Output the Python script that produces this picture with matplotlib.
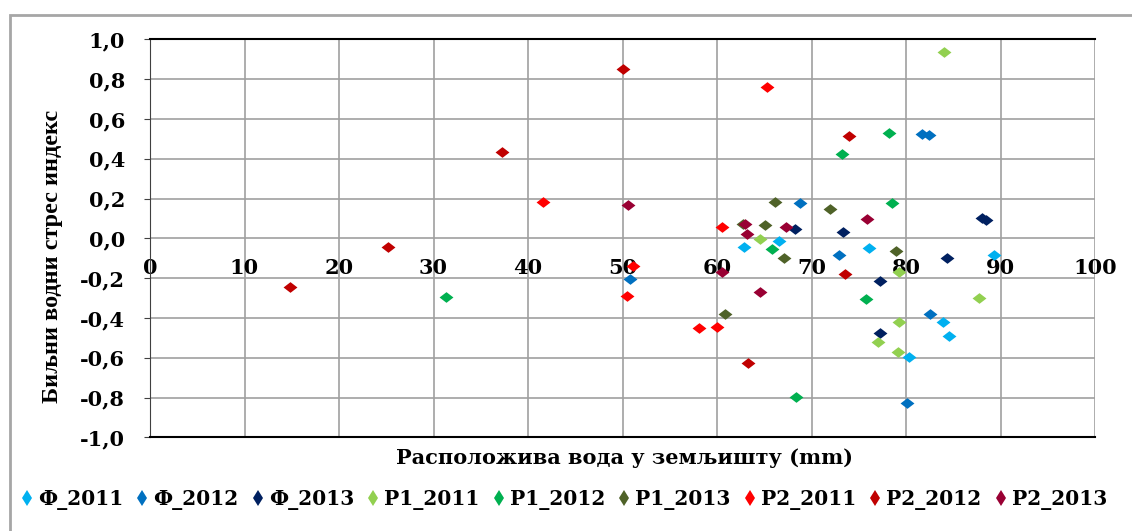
import matplotlib
matplotlib.use("Agg")
import matplotlib.pyplot as plt
from matplotlib.patches import Rectangle

# series: available soil water (mm) vs crop water stress index
labels = ["Ф_2011", "Ф_2012", "Ф_2013", "Р1_2011", "Р1_2012", "Р1_2013", "Р2_2011", "Р2_2012", "Р2_2013"]
colors = ["#00B0F0", "#0070C0", "#002060", "#92D050", "#00B050", "#4F6228", "#FF0000", "#C00000", "#990033"]

f_2011_x = [62.9, 66.6, 76.1, 89.3, 83.9, 84.6, 80.3]
f_2011_y = [-0.042, -0.012, -0.048, -0.084, -0.421, -0.489, -0.595]
f_2012_x = [81.7, 82.4, 68.8, 72.9, 50.8, 82.5, 80.1]
f_2012_y = [0.526, 0.519, 0.176, -0.084, -0.206, -0.380, -0.826]
f_2013_x = [88.0, 88.5, 68.3, 73.3, 84.3, 77.3, 77.3]
f_2013_y = [0.102, 0.094, 0.048, 0.030, -0.100, -0.213, -0.477]
p1_2011_x = [84.0, 64.5, 79.3, 87.7, 79.3, 77.0, 79.2]
p1_2011_y = [0.935, -0.004, -0.168, -0.302, -0.422, -0.523, -0.573]
p1_2012_x = [78.2, 73.2, 78.5, 65.8, 75.8, 31.3, 68.4]
p1_2012_y = [0.531, 0.425, 0.176, -0.055, -0.307, -0.296, -0.799]
p1_2013_x = [66.1, 72.0, 62.7, 65.1, 67.1, 78.9, 60.8]
p1_2013_y = [0.182, 0.149, 0.072, 0.065, -0.100, -0.062, -0.380]
p2_2011_x = [65.3, 41.6, 60.5, 51.1, 50.5, 58.1, 60.0]
p2_2011_y = [0.760, 0.181, 0.055, -0.139, -0.290, -0.452, -0.444]
p2_2012_x = [50.0, 74.0, 37.2, 25.2, 14.8, 73.5, 63.3]
p2_2012_y = [0.849, 0.516, 0.435, -0.045, -0.245, -0.179, -0.628]
p2_2013_x = [50.6, 75.9, 63.0, 63.2, 67.3, 60.5, 64.6]
p2_2013_y = [0.166, 0.097, 0.072, 0.020, 0.055, -0.168, -0.270]

xs = [f_2011_x, f_2012_x, f_2013_x, p1_2011_x, p1_2012_x, p1_2013_x, p2_2011_x, p2_2012_x, p2_2013_x]
ys = [f_2011_y, f_2012_y, f_2013_y, p1_2011_y, p1_2012_y, p1_2013_y, p2_2011_y, p2_2012_y, p2_2013_y]

x_ticks = [0, 10, 20, 30, 40, 50, 60, 70, 80, 90, 100]
y_ticks = [-1.0, -0.8, -0.6, -0.4, -0.2, 0.0, 0.2, 0.4, 0.6, 0.8, 1.0]

plt.rcParams['font.family'] = 'DejaVu Serif'
plt.rcParams['font.weight'] = 'bold'

W, H = 1132, 531
fig = plt.figure(figsize=(W / 100, H / 100), dpi=100)

# grey frame around the whole chart
fig.patches.append(Rectangle((10 / W, -0.2), 1.2, 1.2 - 15 / H, transform=fig.transFigure,
                             fill=False, edgecolor='#a6a6a6', linewidth=2))

ax = fig.add_axes([150 / W, 1 - 437.3 / H, 945 / W, 398 / H])

wide_diamond = [(-1.3, 0), (0, 1), (1.3, 0), (0, -1)]
for x, y, c, lab in zip(xs, ys, colors, labels):
    ax.plot(x, y, linestyle='none', marker=wide_diamond, markersize=10,
            color=c, markeredgewidth=0, label=lab, zorder=3)

ax.set_xlim(0, 100)
ax.set_ylim(-1, 1)
ax.set_xticks(x_ticks)
ax.set_xticklabels([str(v) for v in x_ticks])
ax.set_yticks(y_ticks)
ax.set_yticklabels([f"{v:.1f}".replace('.', ',') for v in y_ticks])
ax.grid(True, color='#a0a0a0', linewidth=1.2, zorder=0)
ax.set_axisbelow(True)

# x axis crosses at zero, labels sit just under that line
ax.spines['bottom'].set_position(('data', 0))
ax.spines['bottom'].set_visible(False)
ax.spines['right'].set_visible(False)
ax.spines['top'].set_color('black')
ax.spines['top'].set_linewidth(1.5)
ax.spines['left'].set_color('#404040')
ax.axhline(-1, color='black', linewidth=1.5, clip_on=False, zorder=4)
ax.tick_params(axis='x', length=0, pad=14, labelsize=15)
ax.tick_params(axis='y', direction='out', length=4, pad=14, labelsize=15, color='#404040')

fig.text(625 / W, 1 - 458 / H, "Расположива вода у земљишту (mm)", ha='center', va='center',
         fontsize=15, fontweight='bold')
fig.text(53 / W, 1 - 256 / H, "Биљни водни стрес индекс", rotation=90, ha='center', va='center',
         fontsize=17.5, fontweight='bold', family='Liberation Serif')

leg = fig.legend(loc='center left', bbox_to_anchor=(22 / W, 1 - 500 / H), ncol=9, frameon=False,
                 fontsize=14.5, handlelength=0.5, handletextpad=0.3, columnspacing=0.7,
                 borderpad=0, borderaxespad=0)
# legend keys are drawn as narrow upright diamonds
for h in leg.legend_handles:
    h.set_marker('d')
    h.set_markersize(8.5)

fig.savefig('out.png', dpi=100)
